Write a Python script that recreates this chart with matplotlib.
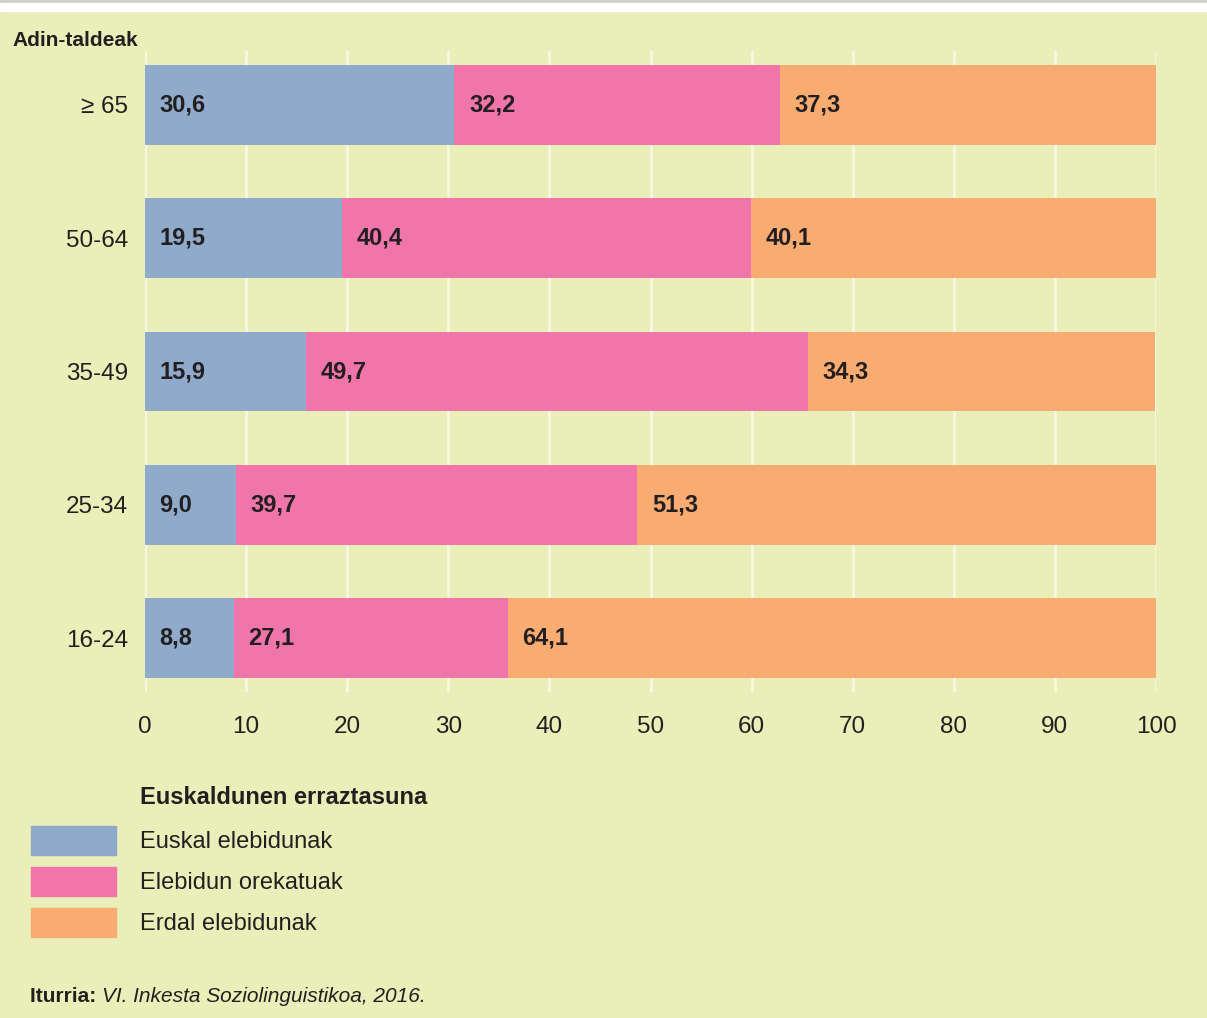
import matplotlib.pyplot as plt
from matplotlib.patches import Rectangle

plt.rcParams['font.family'] = ['Liberation Sans', 'DejaVu Sans']

groups = ['16-24', '25-34', '35-49', '50-64', '≥ 65']
euskal = [8.8, 9.0, 15.9, 19.5, 30.6]
orekatuak = [27.1, 39.7, 49.7, 40.4, 32.2]
erdal = [64.1, 51.3, 34.3, 40.1, 37.3]

series_names = ['Euskal elebidunak', 'Elebidun orekatuak', 'Erdal elebidunak']
colors = ['#8FAACB', '#F075AA', '#F9AC72']
bg = '#EAEEB8'
txt = '#231F20'

W, H = 1207, 1018
fig = plt.figure(figsize=(W / 100, H / 100), dpi=100)
fig.patch.set_facecolor(bg)

# top strip: grey rule, then white band
fig.patches.append(Rectangle((0, 1 - 3 / H), 1, 3 / H, transform=fig.transFigure,
                             color='#CFCFC4', zorder=0))
fig.patches.append(Rectangle((0, 1 - 11 / H), 1, 8 / H, transform=fig.transFigure,
                             color='white', zorder=0))

ax = fig.add_axes([145 / W, 1 - 692 / H, (1156 - 145) / W, (692 - 51) / H])
ax.set_facecolor(bg)

y = range(len(groups))
left = [0] * len(groups)
for vals, c in zip([euskal, orekatuak, erdal], colors):
    bars = ax.barh(y, vals, left=left, height=0.6, color=c, zorder=2)
    for rect, v in zip(bars, vals):
        ax.annotate(f"{v:.1f}".replace('.', ','),
                    xy=(rect.get_x(), rect.get_y() + rect.get_height() / 2),
                    xytext=(10.5, 0), textcoords='offset points',
                    ha='left', va='center', fontsize=17, fontweight='bold',
                    color=txt, zorder=3)
    left = [l + v for l, v in zip(left, vals)]

ax.set_xlim(0, 100)
ax.set_ylim(-0.405, 4.405)
ax.set_xticks(range(0, 101, 10))
ax.set_yticks(list(y))
ax.set_yticklabels(groups)
ax.grid(axis='x', color='#F7F8E2', linewidth=2, zorder=1)
ax.tick_params(length=0, labelsize=17.5, colors=txt)
ax.tick_params(axis='y', pad=12)
ax.tick_params(axis='x', pad=17)
for s in ax.spines.values():
    s.set_visible(False)

fig.text(12 / W, 1 - 40 / H, 'Adin-taldeak', fontsize=15, fontweight='bold',
         color=txt, va='center', ha='left')

# legend
fig.text(140 / W, 1 - 797 / H, 'Euskaldunen erraztasuna', fontsize=17,
         fontweight='bold', color=txt, va='center', ha='left')
for i, (name, c) in enumerate(zip(series_names, colors)):
    top = 826 + i * 41
    fig.patches.append(Rectangle((31 / W, 1 - (top + 29) / H), 85 / W, 29 / H,
                                 transform=fig.transFigure, color=c))
    fig.text(140 / W, 1 - (top + 16) / H, name, fontsize=17, color=txt,
             va='center', ha='left')

# source
t = fig.text(30 / W, 1 - 996 / H, 'Iturria: ', fontsize=15, fontweight='bold',
             color=txt, va='center', ha='left')
fig.canvas.draw()
bb = t.get_window_extent()
fig.text(bb.x1 / W, 1 - 996 / H, 'VI. Inkesta Soziolinguistikoa, 2016.',
         fontsize=15, style='italic', color=txt, va='center', ha='left')

fig.savefig('out.png', dpi=100, facecolor=bg)
